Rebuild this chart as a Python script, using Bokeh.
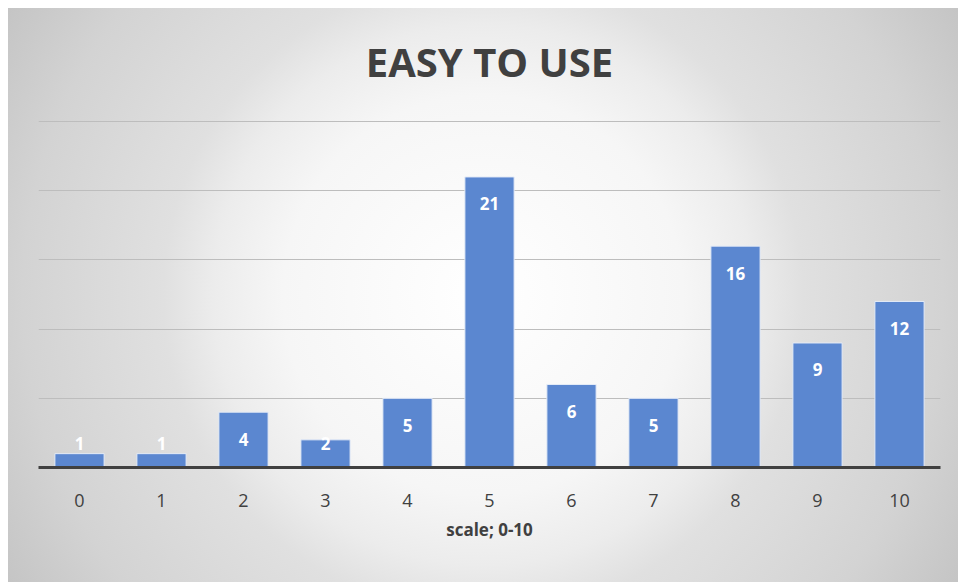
from bokeh.plotting import figure
from bokeh.models import ColumnDataSource, FactorRange, Range1d, FixedTicker, InlineStyleSheet
from bokeh.core.properties import value
from bokeh.embed import file_html
from bokeh.resources import INLINE

# ---- data ----
categories = ["0", "1", "2", "3", "4", "5", "6", "7", "8", "9", "10"]
counts = [1, 1, 4, 2, 5, 21, 6, 5, 16, 9, 12]
grid_values = [5, 10, 15, 20, 25]
title_text = "EASY TO USE"
x_title = "scale; 0-10"

# label positions (inside end; clamped near the base for short bars)
label_y = [max(v - 1.95, 1.73) for v in counts]
source = ColumnDataSource(dict(cat=categories, count=counts, label_y=label_y,
                               label=[str(v) for v in counts]))

css = InlineStyleSheet(css="""
:host {
  background:
    radial-gradient(circle at 50% 50%, #ffffff 0px, #f6f6f6 200px, #ececec 270px,
                    #e0e0e0 320px, #d3d3d3 460px, #c4c4c4 560px)
    8px 8px / 950px 574px no-repeat,
    #ffffff;
}
""")

p = figure(width=958, height=582, x_range=FactorRange(*categories, range_padding=0),
           y_range=Range1d(0, 25.08), output_backend="svg", toolbar_location=None,
           min_border_left=38, min_border_right=18, min_border_top=119,
           min_border_bottom=115)
p.stylesheets = [css]
p.background_fill_color = None
p.border_fill_color = None
p.outline_line_color = None

p.title.text = title_text
p.title.align = "center"
p.title.text_font = "Open Sans"
p.title.text_font_size = "40px"
p.title.text_font_style = "bold"
p.title.text_color = "#404040"
p.title.standoff = 63

p.vbar(x="cat", top="count", width=0.6, source=source, fill_color="#5b87d0",
       line_color="#e4ebf7", line_width=1)

p.text(x="cat", y="label_y", text="label", source=source, text_color="#ffffff",
       text_font=value("Open Sans"), text_font_style="bold", text_font_size="17px",
       text_align="center", text_baseline="middle")

p.yaxis.visible = False
p.ygrid.ticker = FixedTicker(ticks=grid_values)
p.ygrid.grid_line_color = "#bdbdbd"
p.ygrid.grid_line_width = 1
p.xgrid.grid_line_color = None

ax = p.xaxis[0]
ax.axis_line_color = "#404040"
ax.axis_line_width = 3
ax.major_tick_line_color = None
ax.minor_tick_line_color = None
ax.major_label_text_font = "Open Sans"
ax.major_label_text_font_size = "18px"
ax.major_label_text_color = "#404040"
ax.major_label_standoff = 20
ax.axis_label = x_title
ax.axis_label_text_font = "Open Sans"
ax.axis_label_text_font_size = "17px"
ax.axis_label_text_font_style = "bold"
ax.axis_label_text_color = "#404040"
ax.axis_label_standoff = 8

open("out.html", "w").write(file_html(p, INLINE))
